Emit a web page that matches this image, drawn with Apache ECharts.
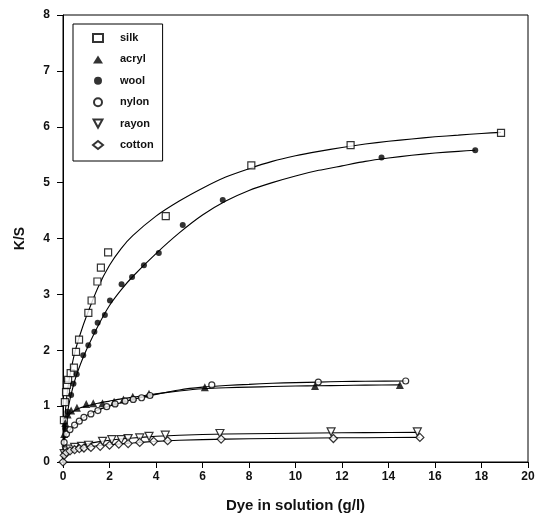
<!DOCTYPE html>
<html>
<head>
<meta charset="utf-8">
<script src="https://cdn.jsdelivr.net/npm/echarts@6/dist/echarts.min.js"></script>
<style>
  html, body { margin: 0; padding: 0; background: #fff; }
  #chart { width: 545px; height: 518px; }
</style>
</head>
<body>
<div id="chart"></div>
<script>
// Measured K/S values against dye remaining in solution (g/l)
const silkX   = [0.04, 0.08, 0.13, 0.17, 0.22, 0.33, 0.47, 0.56, 0.69, 1.09, 1.23, 1.48, 1.63, 1.94, 4.42, 8.1, 12.37, 18.84];
const silkY   = [0.75, 1.07, 1.25, 1.38, 1.47, 1.59, 1.69, 1.97, 2.19, 2.67, 2.89, 3.23, 3.48, 3.75, 4.40, 5.31, 5.67, 5.89];

const acrylX  = [0.05, 0.1, 0.2, 0.35, 0.6, 1.0, 1.3, 1.7, 2.2, 2.6, 3.0, 3.7, 6.1, 10.84, 14.49];
const acrylY  = [0.50, 0.70, 0.85, 0.92, 0.97, 1.04, 1.05, 1.05, 1.08, 1.12, 1.17, 1.22, 1.34, 1.36, 1.38];

const woolX   = [0.1, 0.2, 0.35, 0.45, 0.59, 0.87, 1.09, 1.35, 1.49, 1.8, 2.02, 2.52, 2.97, 3.48, 4.12, 5.15, 6.87, 13.7, 17.73];
const woolY   = [0.60, 0.90, 1.20, 1.40, 1.57, 1.91, 2.09, 2.33, 2.49, 2.63, 2.89, 3.18, 3.31, 3.52, 3.74, 4.24, 4.69, 5.45, 5.58];

const nylonX  = [0.05, 0.15, 0.3, 0.5, 0.7, 0.9, 1.2, 1.5, 1.88, 2.24, 2.67, 3.02, 3.38, 3.74, 6.4, 10.98, 14.74];
const nylonY  = [0.35, 0.50, 0.58, 0.66, 0.73, 0.80, 0.86, 0.92, 0.99, 1.04, 1.09, 1.12, 1.15, 1.19, 1.38, 1.43, 1.45];

const rayonX  = [0.05, 0.15, 0.3, 0.5, 0.8, 1.1, 1.7, 2.1, 2.5, 2.8, 3.3, 3.7, 4.4, 6.75, 11.53, 15.24];
const rayonY  = [0.15, 0.20, 0.23, 0.26, 0.28, 0.30, 0.37, 0.40, 0.40, 0.42, 0.43, 0.46, 0.48, 0.51, 0.54, 0.54];

const cottonX = [0, 0.05, 0.15, 0.3, 0.5, 0.7, 0.9, 1.2, 1.6, 2.0, 2.4, 2.8, 3.3, 3.9, 4.5, 6.8, 11.63, 15.35];
const cottonY = [0, 0.12, 0.17, 0.20, 0.22, 0.24, 0.25, 0.26, 0.28, 0.30, 0.32, 0.33, 0.35, 0.37, 0.38, 0.41, 0.42, 0.44];

// Fitted sorption curves, sampled along x
const silkFitX   = [0, 0.05, 0.1, 0.2, 0.3, 0.5, 0.75, 1, 1.5, 2, 2.5, 3, 4, 5, 6, 7, 8, 9, 10, 11, 12, 13, 14, 15, 16, 17, 18, 18.84];
const silkFitY   = [0, 0.55, 0.9, 1.3, 1.55, 1.95, 2.3, 2.6, 3.12, 3.52, 3.82, 4.05, 4.4, 4.67, 4.9, 5.1, 5.25, 5.38, 5.48, 5.56, 5.63, 5.69, 5.74, 5.78, 5.82, 5.85, 5.88, 5.9];
const woolFitX   = [0, 0.05, 0.1, 0.2, 0.3, 0.5, 0.75, 1, 1.5, 2, 2.5, 3, 4, 5, 6, 7, 8, 9, 10, 11, 12, 13, 14, 15, 16, 17, 17.73];
const woolFitY   = [0, 0.35, 0.6, 0.9, 1.12, 1.45, 1.75, 2.0, 2.43, 2.8, 3.08, 3.32, 3.73, 4.1, 4.42, 4.67, 4.86, 5.0, 5.12, 5.22, 5.3, 5.38, 5.44, 5.49, 5.53, 5.56, 5.58];
const acrylFitX  = [0, 0.03, 0.1, 0.2, 0.3, 0.5, 0.75, 1, 1.5, 2, 2.5, 3, 4, 5, 6, 7, 8, 9, 10, 11, 12, 13, 14.49];
const acrylFitY  = [0, 0.45, 0.68, 0.8, 0.86, 0.92, 0.97, 1.0, 1.05, 1.09, 1.13, 1.16, 1.22, 1.27, 1.31, 1.33, 1.34, 1.35, 1.36, 1.365, 1.37, 1.375, 1.38];
const nylonFitX  = [0, 0.03, 0.1, 0.2, 0.3, 0.5, 0.75, 1, 1.5, 2, 2.5, 3, 4, 5, 6, 7, 8, 9, 10, 11, 12, 13, 14.74];
const nylonFitY  = [0, 0.3, 0.45, 0.53, 0.58, 0.66, 0.75, 0.83, 0.93, 1.0, 1.06, 1.12, 1.21, 1.29, 1.34, 1.37, 1.39, 1.41, 1.42, 1.43, 1.44, 1.445, 1.45];
const rayonFitX  = [0, 0.03, 0.1, 0.2, 0.3, 0.5, 1, 1.5, 2, 3, 4, 5, 7, 9, 11, 13, 15.24];
const rayonFitY  = [0, 0.12, 0.17, 0.21, 0.24, 0.27, 0.32, 0.36, 0.39, 0.43, 0.46, 0.48, 0.5, 0.51, 0.52, 0.525, 0.53];
const cottonFitX = [0, 0.03, 0.1, 0.2, 0.3, 0.5, 1, 1.5, 2, 3, 4, 5, 7, 9, 11, 13, 15.35];
const cottonFitY = [0, 0.09, 0.13, 0.16, 0.19, 0.22, 0.26, 0.29, 0.31, 0.34, 0.37, 0.39, 0.41, 0.42, 0.43, 0.435, 0.44];

const xTicks = [0, 2, 4, 6, 8, 10, 12, 14, 16, 18, 20];
const yTicks = [0, 1, 2, 3, 4, 5, 6, 7, 8];

const pairs = (xs, ys) => xs.map((x, i) => [x, ys[i]]);
const FONT = 'Liberation Sans, Arial, sans-serif';

const openStyle = { color: '#fff', borderColor: '#000', borderWidth: 1.2 };
const fillStyle = { color: '#000', borderColor: '#000', borderWidth: 0 };
// downward-pointing triangle
const DOWN_TRI = 'path://M0,0 L10,0 L5,9 Z';

function pointSeries(name, xs, ys, symbol, size, style) {
  return {
    name, type: 'scatter', data: pairs(xs, ys), symbol, symbolSize: size,
    itemStyle: style, z: 5, silent: true
  };
}
function fitSeries(xs, ys) {
  return {
    type: 'line', data: pairs(xs, ys), smooth: 0.2,
    showSymbol: false, lineStyle: { color: '#000', width: 1.1 }, z: 3, silent: true
  };
}

const chart = echarts.init(document.getElementById('chart'), null, { renderer: 'canvas' });
chart.setOption({
  animation: false,
  backgroundColor: '#fff',
  grid: { left: 63, right: 17, top: 15, bottom: 56, show: true, borderColor: '#000', borderWidth: 1 },
  xAxis: {
    type: 'value', min: xTicks[0], max: xTicks[xTicks.length - 1], interval: 2,
    name: 'Dye in solution (g/l)', nameLocation: 'middle', nameGap: 36,
    nameTextStyle: { fontFamily: FONT, fontSize: 15, fontWeight: 'bold', color: '#111' },
    axisLine: { lineStyle: { color: '#000', width: 1 } },
    axisTick: { show: true, length: 6, lineStyle: { color: '#000' } },
    axisLabel: { fontFamily: FONT, fontSize: 12, fontWeight: 'bold', color: '#111', margin: 9 },
    splitLine: { show: false }
  },
  yAxis: {
    type: 'value', min: yTicks[0], max: yTicks[yTicks.length - 1], interval: 1,
    name: 'K/S', nameLocation: 'middle', nameGap: 36, nameRotate: 90,
    nameTextStyle: { fontFamily: FONT, fontSize: 14, fontWeight: 'bold', color: '#111' },
    axisLine: { lineStyle: { color: '#000', width: 1 } },
    axisTick: { show: true, length: 6, lineStyle: { color: '#000' } },
    axisLabel: { fontFamily: FONT, fontSize: 12, fontWeight: 'bold', color: '#111', margin: 13 },
    splitLine: { show: false }
  },
  legend: {
    orient: 'vertical', left: 73, top: 24,
    data: ['silk', 'acryl', 'wool', 'nylon', 'rayon', 'cotton'],
    backgroundColor: '#fff', borderColor: '#000', borderWidth: 1,
    padding: [8, 9, 10, 19], itemWidth: 10, itemHeight: 8, itemGap: 9.4,
    textStyle: { fontFamily: FONT, fontSize: 11, fontWeight: 'bold', color: '#111', lineHeight: 12, padding: [0, 0, 0, 12] },
    selectedMode: false
  },
  series: [
    fitSeries(silkFitX, silkFitY),
    fitSeries(woolFitX, woolFitY),
    fitSeries(acrylFitX, acrylFitY),
    fitSeries(nylonFitX, nylonFitY),
    fitSeries(rayonFitX, rayonFitY),
    fitSeries(cottonFitX, cottonFitY),
    pointSeries('silk', silkX, silkY, 'rect', 7, openStyle),
    pointSeries('acryl', acrylX, acrylY, 'triangle', 8, fillStyle),
    pointSeries('wool', woolX, woolY, 'circle', 6, fillStyle),
    pointSeries('nylon', nylonX, nylonY, 'circle', 6, openStyle),
    pointSeries('rayon', rayonX, rayonY, DOWN_TRI, 8, openStyle),
    pointSeries('cotton', cottonX, cottonY, 'diamond', 8, openStyle)
  ]
});
</script>
</body>
</html>
